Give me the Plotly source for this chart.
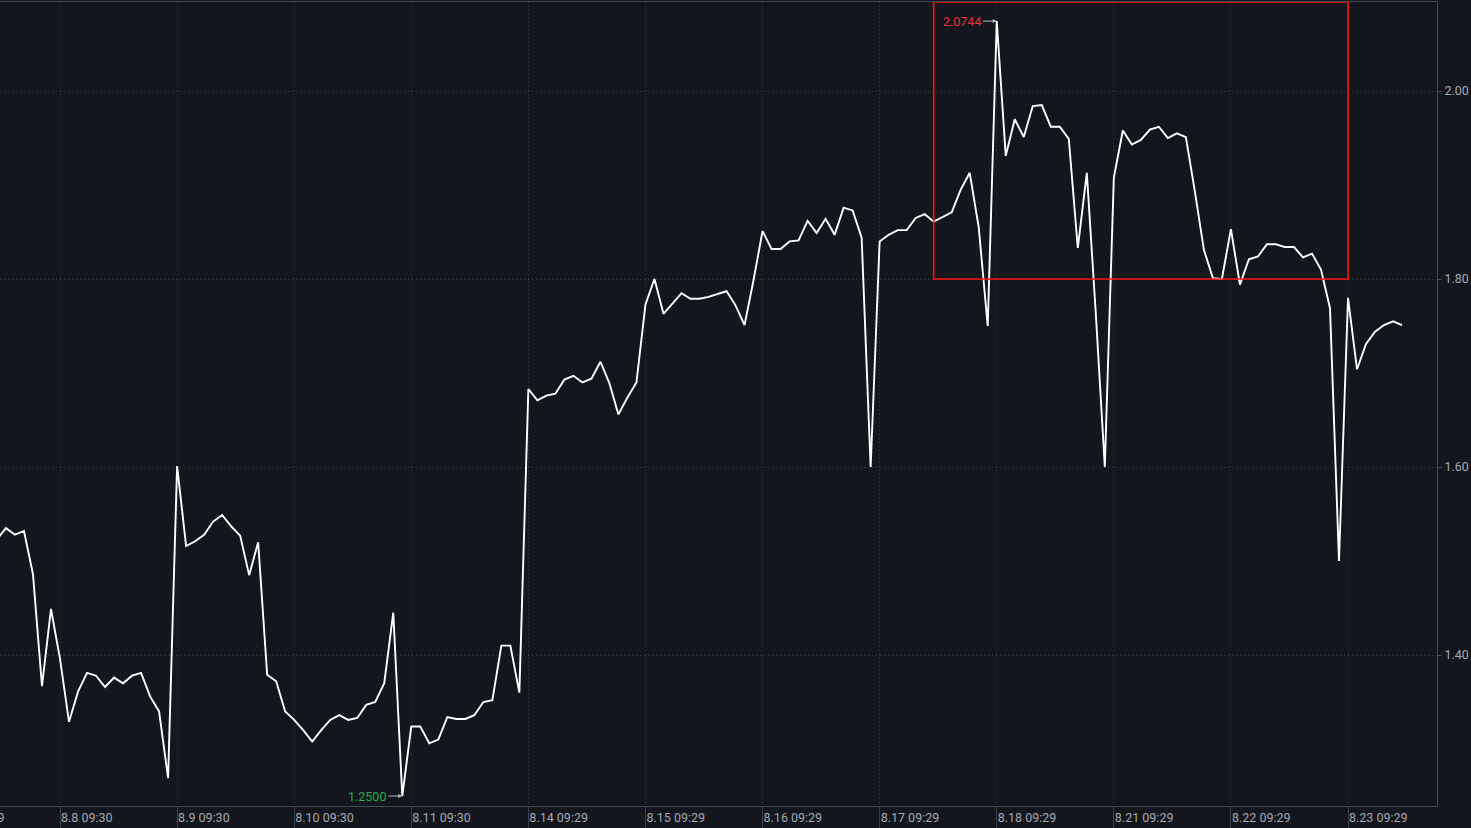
import plotly.graph_objects as go

# values, 13 points per trading day (first one is cut at the left edge)
values = [
    1.523,
    1.535, 1.528, 1.532, 1.486, 1.367, 1.449,
    1.396, 1.329, 1.361, 1.381, 1.378, 1.366, 1.376, 1.370, 1.378, 1.381, 1.356, 1.340, 1.269,
    1.601, 1.516, 1.521, 1.528, 1.542, 1.549, 1.537, 1.527, 1.485, 1.520, 1.379, 1.372, 1.340,
    1.331, 1.320, 1.308, 1.320, 1.331, 1.336, 1.331, 1.333, 1.347, 1.350, 1.370, 1.445, 1.250,
    1.324, 1.324, 1.306, 1.310, 1.334, 1.332, 1.332, 1.336, 1.350, 1.352, 1.410, 1.410, 1.360,
    1.683, 1.671, 1.676, 1.678, 1.693, 1.697, 1.690, 1.694, 1.712, 1.689, 1.656, 1.674, 1.690,
    1.773, 1.800, 1.763, 1.774, 1.785, 1.779, 1.779, 1.781, 1.784, 1.787, 1.772, 1.751, 1.799,
    1.851, 1.832, 1.832, 1.840, 1.841, 1.862, 1.849, 1.864, 1.847, 1.876, 1.873, 1.844, 1.600,
    1.840, 1.847, 1.852, 1.852, 1.865, 1.869, 1.861, 1.866, 1.871, 1.895, 1.913, 1.855, 1.750,
    2.0744, 1.931, 1.970, 1.951, 1.984, 1.985, 1.962, 1.962, 1.949, 1.833, 1.913, 1.763, 1.600,
    1.908, 1.958, 1.943, 1.948, 1.959, 1.962, 1.950, 1.955, 1.951, 1.893, 1.831, 1.801, 1.800,
    1.853, 1.794, 1.821, 1.824, 1.837, 1.837, 1.834, 1.834, 1.823, 1.827, 1.810, 1.769, 1.500,
    1.780, 1.704, 1.731, 1.744, 1.751, 1.755, 1.751,
]
day_labels = ["8.8 09:30", "8.9 09:30", "8.10 09:30", "8.11 09:30", "8.14 09:29", "8.15 09:29",
              "8.16 09:29", "8.17 09:29", "8.18 09:29", "8.21 09:29", "8.22 09:29", "8.23 09:29"]
prev_label = "8.7 09:29"
per_day = 13
first_tick = 6

x = list(range(-1, len(values) - 1))
tickvals = [first_tick + per_day * i for i in range(len(day_labels))]

y_lo, y_hi = 1.2394, 2.0947
bg = "#13161c"
grid = "#3a3e46"
axis_col = "#44484f"
txt = "#a3a8b2"
dots = "1px,3px"

i_max = values.index(max(values))
i_min = values.index(min(values))

fig = go.Figure()
fig.add_trace(go.Scatter(x=x, y=values, mode="lines",
                         line=dict(color="white", width=1.9), hoverinfo="skip"))

# highlight box
fig.add_shape(type="rect", xref="x", yref="y", x0=103, x1=149, y0=1.80, y1=y_hi,
              line=dict(color="#ff1010", width=1.6))

fig.add_annotation(x=x[i_max], y=values[i_max], text=f"{values[i_max]:.4f}",
                   showarrow=True, ax=-14, ay=0, xanchor="right", arrowhead=2,
                   arrowsize=0.8, arrowwidth=1, arrowcolor="#b8bcc4", standoff=0,
                   font=dict(color="#e8353c", size=12.5))
fig.add_annotation(x=x[i_min], y=values[i_min], text=f"{values[i_min]:.4f}",
                   showarrow=True, ax=-14, ay=0, xanchor="right", arrowhead=2,
                   arrowsize=0.8, arrowwidth=1, arrowcolor="#b8bcc4", standoff=0,
                   font=dict(color="#1fb04a", size=12.5))
# label of the previous day, mostly outside the left edge
fig.add_annotation(xref="paper", yref="paper", x=0.005, y=0, yshift=-11,
                   xanchor="right", yanchor="middle", showarrow=False,
                   text=prev_label, font=dict(color=txt, size=12.5))

fig.update_xaxes(range=[-0.662, 158.88], tickvals=tickvals, ticktext=day_labels,
                 ticklabelposition="outside right", ticks="outside", ticklen=22,
                 tickcolor=grid, showgrid=True, gridcolor=grid, griddash=dots,
                 gridwidth=1, showline=True, linecolor=axis_col, mirror=True,
                 zeroline=False, tickfont=dict(color=txt, size=12.5))
fig.update_yaxes(range=[y_lo, y_hi], side="right", tick0=0, dtick=0.2, tickformat=".2f",
                 ticks="outside", ticklen=4, tickcolor=axis_col, showgrid=True,
                 gridcolor=grid, griddash=dots, gridwidth=1, showline=True,
                 linecolor=axis_col, zeroline=False, tickfont=dict(color=txt, size=12.5))

fig.update_layout(width=1471, height=828, margin=dict(l=0, r=34, t=2, b=22),
                  paper_bgcolor=bg, plot_bgcolor=bg, showlegend=False,
                  font=dict(family="Roboto", color=txt))

fig.write_html("out.html", config={"displayModeBar": False},
               post_script="document.body.style.margin='0';"
                           "document.body.style.background='#13161c';"
                           "document.body.style.overflow='hidden';")
